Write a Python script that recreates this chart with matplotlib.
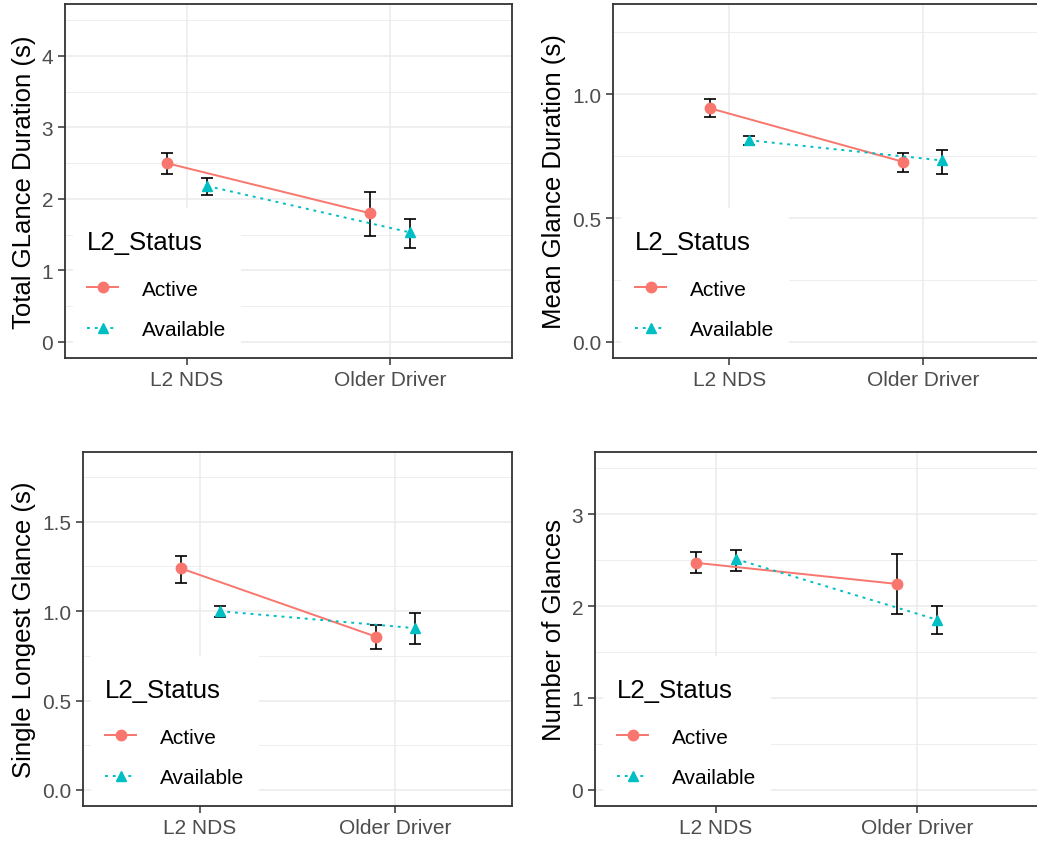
import matplotlib
matplotlib.use("Agg")
import matplotlib.pyplot as plt
from matplotlib.patches import Rectangle
from matplotlib.ticker import MultipleLocator, FormatStrFormatter

plt.rcParams['font.family'] = ['Liberation Sans', 'DejaVu Sans']

# data (mean, lower and upper end of error bar)
groups = ["L2 NDS", "Older Driver"]
status = ["Active", "Available"]

tgd_active = [2.50, 1.80]
tgd_active_lo = [2.35, 1.48]
tgd_active_hi = [2.64, 2.10]
tgd_avail = [2.18, 1.53]
tgd_avail_lo = [2.05, 1.31]
tgd_avail_hi = [2.29, 1.72]

mgd_active = [0.944, 0.727]
mgd_active_lo = [0.907, 0.688]
mgd_active_hi = [0.980, 0.763]
mgd_avail = [0.815, 0.733]
mgd_avail_lo = [0.797, 0.680]
mgd_avail_hi = [0.832, 0.777]

slg_active = [1.24, 0.858]
slg_active_lo = [1.16, 0.79]
slg_active_hi = [1.31, 0.92]
slg_avail = [1.00, 0.905]
slg_avail_lo = [0.965, 0.815]
slg_avail_hi = [1.03, 0.99]

nog_active = [2.47, 2.24]
nog_active_lo = [2.36, 1.91]
nog_active_hi = [2.59, 2.57]
nog_avail = [2.51, 1.85]
nog_avail_lo = [2.38, 1.70]
nog_avail_hi = [2.61, 2.00]

RED = '#F8766D'
CYAN = '#00BFC4'
W, H = 1037, 845

fig = plt.figure(figsize=(W / 100, H / 100), dpi=100)


def panel(rect_px, mean_a, lo_a, hi_a, mean_b, lo_b, hi_b, ylabel, ytop, step, fmt):
    l, r, t, b = rect_px
    ax = fig.add_axes([l / W, 1 - b / H, (r - l) / W, (b - t) / H])
    x = [1, 2]
    xa = [v - 0.1 for v in x]
    xb = [v + 0.1 for v in x]
    ax.errorbar(xa, mean_a, yerr=[[m - v for m, v in zip(mean_a, lo_a)],
                                  [v - m for m, v in zip(mean_a, hi_a)]],
                fmt='none', ecolor='black', elinewidth=1.2, capsize=4, capthick=1.2, zorder=3)
    ax.errorbar(xb, mean_b, yerr=[[m - v for m, v in zip(mean_b, lo_b)],
                                  [v - m for m, v in zip(mean_b, hi_b)]],
                fmt='none', ecolor='black', elinewidth=1.2, capsize=4, capthick=1.2, zorder=3)
    ax.plot(xa, mean_a, color=RED, lw=1.4, marker='o', ms=7.5, label=status[0], zorder=4)
    ax.plot(xb, mean_b, color=CYAN, lw=1.4, ls=(0, (1.5, 2.5)), marker='^', ms=7.5,
            label=status[1], zorder=4)

    # limits 0..ytop with ggplot's 5% expansion
    ax.set_ylim(-0.05 * ytop, ytop * 1.05)
    ax.set_xlim(0.4, 2.6)
    ax.set_xticks(x)
    ax.set_xticklabels(groups)
    ax.yaxis.set_major_locator(MultipleLocator(step))
    ax.yaxis.set_minor_locator(MultipleLocator(step / 2))
    ax.yaxis.set_major_formatter(FormatStrFormatter(fmt))
    ax.set_axisbelow(True)
    ax.grid(True, which='major', color='#EBEBEB', lw=1.1)
    ax.grid(True, which='minor', axis='y', color='#EBEBEB', lw=0.6)
    ax.tick_params(which='major', length=5, width=1.1, color='#333333',
                   labelsize=15, labelcolor='#4D4D4D', pad=3.5)
    ax.tick_params(which='minor', length=0)
    for s in ax.spines.values():
        s.set_color('#333333')
        s.set_linewidth(1.3)
    ax.set_ylabel(ylabel, fontsize=18.5, color='black', labelpad=4)

    # legend inside the panel, bottom-left, white box over the grid
    wpx, hpx = r - l, b - t
    ax.add_patch(Rectangle((8 / wpx, 0), 168 / wpx, 150 / hpx, transform=ax.transAxes,
                           facecolor='white', edgecolor='none', zorder=1))
    leg = ax.legend(loc='lower left', bbox_to_anchor=(22 / wpx, 19 / hpx),
                    frameon=False, title='L2_Status', alignment='left',
                    fontsize=15, title_fontsize=18.5, handlelength=1.5,
                    handletextpad=1.15, labelspacing=1.03, borderpad=0, borderaxespad=0)
    leg._legend_box.sep = 18.5
    leg.set_zorder(6)
    return ax


panel((65, 512, 5, 359), tgd_active, tgd_active_lo, tgd_active_hi,
      tgd_avail, tgd_avail_lo, tgd_avail_hi, 'Total GLance Duration (s)', 4.5, 1, '%d')
panel((613, 1039, 5, 359), mgd_active, mgd_active_lo, mgd_active_hi,
      mgd_avail, mgd_avail_lo, mgd_avail_hi, 'Mean Glance Duration (s)', 1.3, 0.5, '%.1f')
panel((83, 512, 453, 807), slg_active, slg_active_lo, slg_active_hi,
      slg_avail, slg_avail_lo, slg_avail_hi, 'Single Longest Glance (s)', 1.8, 0.5, '%.1f')
panel((595, 1038, 453, 807), nog_active, nog_active_lo, nog_active_hi,
      nog_avail, nog_avail_lo, nog_avail_hi, 'Number of Glances', 3.5, 1, '%d')

fig.savefig('out.png', dpi=100, facecolor='white')
